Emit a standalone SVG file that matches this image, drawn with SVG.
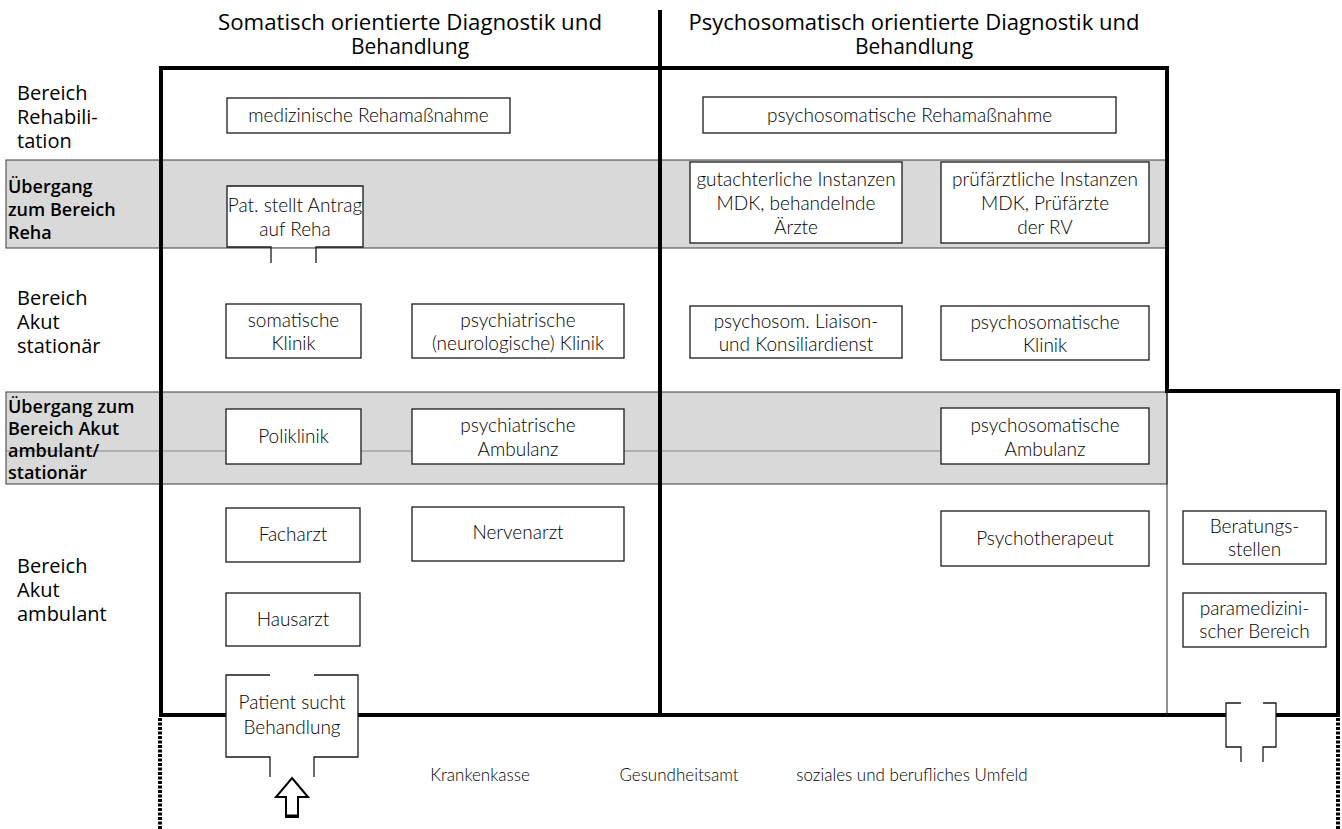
<svg xmlns="http://www.w3.org/2000/svg" width="1342" height="829" viewBox="0 0 1342 829">
<style>
.bg{fill:#ffffff}
.band{fill:#d9d9d9;stroke:#3a3a3a;stroke-width:1}
.frame{fill:none;stroke:#000;stroke-width:4;stroke-linecap:square}
.thin{fill:none;stroke:#222;stroke-width:1}
.box{fill:#fff;stroke:#1a1a1a;stroke-width:1.3}
.edge{fill:none;stroke:#1a1a1a;stroke-width:1.3}
.fill{fill:#fff;stroke:none}
.dash{fill:none;stroke:#000;stroke-width:4;stroke-dasharray:3 1.5}
.t{font-family:Lato,"Open Sans","Liberation Sans",sans-serif;font-size:19px;font-weight:300;fill:#000;text-anchor:middle}
.h{font-family:"Open Sans","Noto Sans","Liberation Sans",sans-serif;font-size:21px;font-weight:500;fill:#000;text-anchor:middle}
.l{font-family:"Open Sans","Noto Sans","Liberation Sans",sans-serif;font-size:20px;font-weight:500;fill:#000}
.lb{font-family:"Open Sans","Noto Sans","Liberation Sans",sans-serif;font-size:18px;font-weight:600;fill:#000}
.b{font-family:Lato,"Open Sans","Liberation Sans",sans-serif;font-size:17px;font-weight:300;fill:#000;text-anchor:middle}
</style>
<rect class="bg" x="0" y="0" width="1342" height="829"/>

<g id="bands">
<rect class="band" x="6" y="160" width="1161" height="88"/>
<rect class="band" x="6" y="392" width="1161" height="92"/>
<line x1="6" y1="451" x2="941" y2="451" stroke="#555" stroke-width="1" opacity="0.6"/>
</g>

<g id="headers">
<text class="h" x="410" y="30" textLength="384" lengthAdjust="spacingAndGlyphs">Somatisch orientierte Diagnostik und</text>
<text class="h" x="410" y="54">Behandlung</text>
<text class="h" x="914" y="30" textLength="451" lengthAdjust="spacingAndGlyphs">Psychosomatisch orientierte Diagnostik und</text>
<text class="h" x="914" y="54">Behandlung</text>
</g>

<g id="row-labels">
<text class="l" x="17" y="100">Bereich</text>
<text class="l" x="17" y="124">Rehabili-</text>
<text class="l" x="17" y="148">tation</text>
<text class="lb" x="8" y="193">Übergang</text>
<text class="lb" x="8" y="216">zum Bereich</text>
<text class="lb" x="8" y="239">Reha</text>
<text class="l" x="17" y="305">Bereich</text>
<text class="l" x="17" y="329">Akut</text>
<text class="l" x="17" y="353">stationär</text>
<text class="lb" x="8" y="413">Übergang zum</text>
<text class="lb" x="8" y="435">Bereich Akut</text>
<text class="lb" x="8" y="457">ambulant/</text>
<text class="lb" x="8" y="479">stationär</text>
<text class="l" x="17" y="573">Bereich</text>
<text class="l" x="17" y="597">Akut</text>
<text class="l" x="17" y="621">ambulant</text>
</g>

<g id="frame">
<polyline class="frame" points="1167,391 1167,68 161,68 161,715 1338,715 1338,391 1167,391"/>
<line class="frame" x1="660" y1="12" x2="660" y2="715"/>
<line class="thin" x1="1167" y1="391" x2="1167" y2="715"/>
<line class="dash" x1="160" y1="718" x2="160" y2="829"/>
<line class="dash" x1="1338" y1="718" x2="1338" y2="829"/>
</g>

<g id="n-med-reha">
<rect class="box" x="227" y="98" width="283" height="35"/>
<text class="t" x="368.5" y="122">medizinische Rehamaßnahme</text>
</g>
<g id="n-psy-reha">
<rect class="box" x="703" y="97" width="413" height="36"/>
<text class="t" x="909.5" y="122">psychosomatische Rehamaßnahme</text>
</g>
<g id="n-antrag">
<rect class="fill" x="227" y="186" width="136" height="61"/>
<path class="edge" d="M271,263 V247 H227 V186 H363 V247 H316 V263"/>
<text class="t" x="295" y="212">Pat. stellt Antrag</text>
<text class="t" x="295" y="236">auf Reha</text>
</g>
<g id="n-gutachter">
<rect class="box" x="690" y="162" width="212" height="81"/>
<text class="t" x="796" y="186">gutachterliche Instanzen</text>
<text class="t" x="796" y="210">MDK, behandelnde</text>
<text class="t" x="796" y="234">Ärzte</text>
</g>
<g id="n-pruef">
<rect class="box" x="941" y="162" width="208" height="81"/>
<text class="t" x="1045" y="186">prüfärztliche Instanzen</text>
<text class="t" x="1045" y="210">MDK, Prüfärzte</text>
<text class="t" x="1045" y="234">der RV</text>
</g>
<g id="n-som-klinik">
<rect class="box" x="226" y="304" width="135" height="54"/>
<text class="t" x="293.5" y="327">somatische</text>
<text class="t" x="293.5" y="350">Klinik</text>
</g>
<g id="n-psych-klinik">
<rect class="box" x="412" y="304" width="212" height="54"/>
<text class="t" x="518" y="327">psychiatrische</text>
<text class="t" x="518" y="350">(neurologische) Klinik</text>
</g>
<g id="n-liaison">
<rect class="box" x="690" y="306" width="212" height="52"/>
<text class="t" x="796" y="328">psychosom. Liaison-</text>
<text class="t" x="796" y="351">und Konsiliardienst</text>
</g>
<g id="n-psysom-klinik">
<rect class="box" x="941" y="306" width="208" height="54"/>
<text class="t" x="1045" y="329">psychosomatische</text>
<text class="t" x="1045" y="352">Klinik</text>
</g>
<g id="n-poliklinik">
<rect class="box" x="226" y="409" width="135" height="55"/>
<text class="t" x="293.5" y="443">Poliklinik</text>
</g>
<g id="n-psych-amb">
<rect class="box" x="412" y="409" width="212" height="55"/>
<text class="t" x="518" y="432">psychiatrische</text>
<text class="t" x="518" y="456">Ambulanz</text>
</g>
<g id="n-psysom-amb">
<rect class="box" x="941" y="408" width="208" height="56"/>
<text class="t" x="1045" y="432">psychosomatische</text>
<text class="t" x="1045" y="456">Ambulanz</text>
</g>
<g id="n-facharzt">
<rect class="box" x="226" y="508" width="134" height="54"/>
<text class="t" x="293" y="541">Facharzt</text>
</g>
<g id="n-nervenarzt">
<rect class="box" x="412" y="507" width="212" height="54"/>
<text class="t" x="518" y="539">Nervenarzt</text>
</g>
<g id="n-hausarzt">
<rect class="box" x="226" y="593" width="134" height="53"/>
<text class="t" x="293" y="626">Hausarzt</text>
</g>
<g id="n-psychotherapeut">
<rect class="box" x="941" y="511" width="208" height="55"/>
<text class="t" x="1045" y="545">Psychotherapeut</text>
</g>
<g id="n-beratung">
<rect class="box" x="1183" y="511" width="143" height="53"/>
<text class="t" x="1254.5" y="533">Beratungs-</text>
<text class="t" x="1254.5" y="556">stellen</text>
</g>
<g id="n-paramed">
<rect class="box" x="1183" y="593" width="143" height="54"/>
<text class="t" x="1254.5" y="615">paramedizini-</text>
<text class="t" x="1254.5" y="638">scher Bereich</text>
</g>
<g id="n-patient">
<rect class="fill" x="226" y="675" width="132" height="82"/>
<path class="edge" d="M270,675 H226 V757 H270 V777"/>
<path class="edge" d="M314,675 H358 V757 H314 V777"/>
<text class="t" x="292" y="709">Patient sucht</text>
<text class="t" x="292" y="734">Behandlung</text>
</g>
<g id="n-umfeld-gate">
<rect class="fill" x="1226" y="703" width="50" height="44"/>
<path class="edge" d="M1241,703 H1226 V747 H1241 V762"/>
<path class="edge" d="M1263,703 H1276 V747 H1263 V762"/>
</g>
<g id="n-krankenkasse">
<text class="b" x="480" y="781">Krankenkasse</text>
</g>
<g id="n-gesundheitsamt">
<text class="b" x="679" y="781">Gesundheitsamt</text>
</g>
<g id="n-umfeld">
<text class="b" x="912" y="781">soziales und berufliches Umfeld</text>
</g>

<g id="connectors">
<path d="M292,778 L308,797 L298,797 L298,817 L286,817 L286,797 L276,797 Z" fill="#fff" stroke="#000" stroke-width="2" stroke-linejoin="miter"/>
<line x1="286" y1="816" x2="298" y2="816" stroke="#000" stroke-width="3"/>
</g>
</svg>
